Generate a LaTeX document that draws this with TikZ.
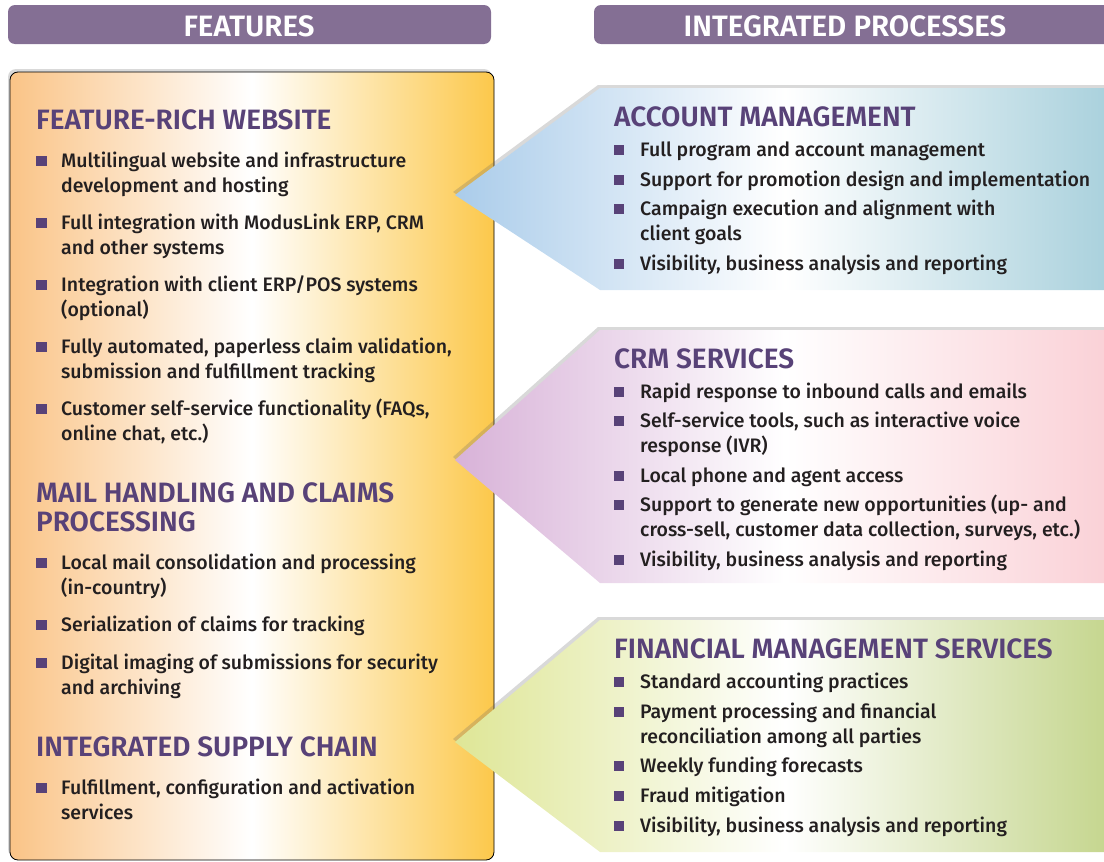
\documentclass[tikz,border=0pt]{standalone}
\usepackage{fontspec}
\setmainfont{Fira Sans}[UprightFont=* Medium, BoldFont=* SemiBold]
\usetikzlibrary{shadows}

\definecolor{barpurple}{RGB}{132,111,148}
\definecolor{headpurple}{RGB}{88,66,120}
\definecolor{bodyblack}{RGB}{35,31,32}
\definecolor{featleft}{RGB}{250,196,135}
\definecolor{featright}{RGB}{252,200,75}
\definecolor{acctleft}{RGB}{170,204,234}
\definecolor{acctright}{RGB}{168,208,220}
\definecolor{crmleft}{RGB}{216,178,216}
\definecolor{crmright}{RGB}{250,208,214}
\definecolor{finleft}{RGB}{222,230,150}
\definecolor{finright}{RGB}{196,213,140}

% first line of a multi-line text sits on the node's base
\newcommand{\itemlines}[1]{\begin{tabular}[t]{@{}l@{}}#1\end{tabular}}

\tikzset{
  panelshadow/.style={drop shadow={shadow xshift=-2pt,shadow yshift=3pt,opacity=.25,fill=black!60}},
  section/.style={anchor=base west, inner sep=0pt, text=headpurple, font=\bfseries\fontsize{28}{29}\selectfont},
  itemtext/.style={anchor=base west, inner sep=0pt, text=bodyblack, font=\fontsize{19.5}{25}\selectfont},
  bullet/.style={fill=headpurple},
  barlabel/.style={text=white, inner sep=0pt, font=\bfseries\fontsize{29.5}{30}\selectfont},
}

\begin{document}
\begin{tikzpicture}[x=1pt,y=-1pt]
      \useasboundingbox (0,0) rectangle (1104,862);
      \clip (0,0) rectangle (1104,862);

      % column headers
      \fill[barpurple,rounded corners=7pt] (8,5) rectangle (491,44);
      \node[barlabel] (featTitle) at (249,26) {FEATURES};
      \fill[barpurple,rounded corners=7pt] (594,5) rectangle (1120,44);
      \node[barlabel] (procTitle) at (845,26) {INTEGRATED PROCESSES};

      % features panel
      \path[panelshadow, draw=black, line width=.8pt, rounded corners=8pt,
            left color=featleft, right color=featright, middle color=white] (10,72) rectangle (494,860);

      % process panels, pointing at the features
      \path[panelshadow, left color=acctleft, right color=acctright, middle color=white]
            (455,195) -- (600,88) -- (1115,88) -- (1115,290) -- (600,290) -- cycle;
      \path[panelshadow, left color=crmleft, right color=crmright, middle color=white]
            (455,460) -- (600,330) -- (1115,330) -- (1115,583) -- (600,583) -- cycle;
      \path[panelshadow, left color=finleft, right color=finright, middle color=white]
            (455,742) -- (600,620) -- (1115,620) -- (1115,852) -- (600,852) -- cycle;

      % features text
      \node[section] (hWeb) at (36,129) {FEATURE-RICH WEBSITE};
      \node[section] (hMail) at (36,502) {\itemlines{MAIL HANDLING AND CLAIMS\\PROCESSING}};
      \node[section] (hChain) at (36,756) {INTEGRATED SUPPLY CHAIN};
      \foreach \nm/\yy/\txt in {
          w1/167/{Multilingual website and infrastructure\\development and hosting},
          w2/229/{Full integration with ModusLink ERP, CRM\\and other systems},
          w3/291/{Integration with client ERP/POS systems\\(optional)},
          w4/353/{Fully automated, paperless claim validation,\\submission and fulfillment tracking},
          w5/415/{Customer self-service functionality (FAQs,\\online chat, etc.)},
          m1/569/{Local mail consolidation and processing\\(in-country)},
          m2/631/{Serialization of claims for tracking},
          m3/669/{Digital imaging of submissions for security\\and archiving},
          c1/794/{Fulfillment, configuration and activation\\services}}{
        \fill[bullet] (36,\yy-11) rectangle ++(11,10);
        \node[itemtext] (\nm) at (61,\yy) {\itemlines{\txt}};
      }

      % process text
      \node[section] (hAcct) at (614,126) {ACCOUNT MANAGEMENT};
      \node[section] (hCrm) at (614,368) {CRM SERVICES};
      \node[section] (hFin) at (614,658) {FINANCIAL MANAGEMENT SERVICES};
      \foreach \nm/\yy/\txt in {
          a1/156/{Full program and account management},
          a2/186/{Support for promotion design and implementation},
          a3/215/{Campaign execution and alignment with\\client goals},
          a4/270/{Visibility, business analysis and reporting},
          r1/398/{Rapid response to inbound calls and emails},
          r2/427/{Self-service tools, such as interactive voice\\response (IVR)},
          r3/482/{Local phone and agent access},
          r4/511/{Support to generate new opportunities (up- and\\cross-sell, customer data collection, surveys, etc.)},
          r5/566/{Visibility, business analysis and reporting},
          f1/688/{Standard accounting practices},
          f2/718/{Payment processing and financial\\reconciliation among all parties},
          f3/772/{Weekly funding forecasts},
          f4/802/{Fraud mitigation},
          f5/832/{Visibility, business analysis and reporting}}{
        \fill[bullet] (614,\yy-11) rectangle ++(10,10);
        \node[itemtext] (\nm) at (640,\yy) {\itemlines{\txt}};
      }

\end{tikzpicture}
\end{document}
